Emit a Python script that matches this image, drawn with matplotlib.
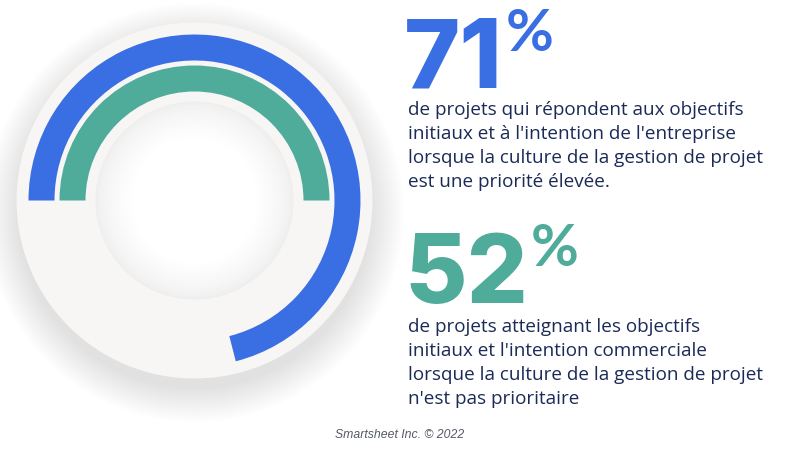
"""
Two progress rings with their headline figures (Smartsheet 2022).
"""

import matplotlib.pyplot as plt
import numpy as np
from matplotlib.patches import Circle, Wedge

# headline values and the share of the ring each arc covers
percents = ['71', '52']
arc_fractions = [0.71, 0.50]
colors = ['#3a6fe3', '#4fab9a']
captions = [
    ["de projets qui répondent aux objectifs",
     "initiaux et à l'intention de l'entreprise",
     "lorsque la culture de la gestion de projet",
     "est une priorité élevée."],
    ["de projets atteignant les objectifs",
     "initiaux et l'intention commerciale",
     "lorsque la culture de la gestion de projet",
     "n'est pas prioritaire"],
]
footer = 'Smartsheet Inc. © 2022'

W, H = 800, 451
fig = plt.figure(figsize=(W / 100, H / 100), dpi=100)
ax = fig.add_axes([0, 0, 1, 1])
ax.set_xlim(0, W)
ax.set_ylim(0, H)
ax.set_aspect('equal')
ax.axis('off')

cx, cy = 194.5, H - 200.5

# soft drop shadow under the gray disk
for r in np.linspace(210, 176, 30):
    ax.add_patch(Circle((cx, cy - 12), r, color='#000000', alpha=0.002, lw=0))
ax.add_patch(Circle((cx, cy), 178, color='#f7f6f5', lw=0))

# inner white well with an inner shadow
for r in np.linspace(99, 62, 30):
    t = (99 - r) / 37
    g = 0.935 + 0.065 * t ** 0.7
    ax.add_patch(Circle((cx, cy), r, color=(g, g, g), lw=0))
ax.add_patch(Circle((cx, cy), 62, color='white', lw=0))

# arcs, starting at 9 o'clock and running clockwise
radii = [166, 135]
for frac, color, r in zip(arc_fractions, colors, radii):
    ax.add_patch(Wedge((cx, cy), r, 180 - 360 * frac, 180, width=26,
                       color=color, lw=0))

# headline numbers and captions
num_y = [87, 303]
pct_y = [51, 266]
cap_y = [115, 332]
for i, (pct, color, lines) in enumerate(zip(percents, colors, captions)):
    t = ax.text(404, H - num_y[i], pct, color=color, fontsize=69,
                fontweight=800, family='Inter', va='baseline', ha='left')
    fig.canvas.draw()
    x1 = ax.transData.inverted().transform(t.get_window_extent().get_points())[1, 0]
    ax.text(x1 + 3, H - pct_y[i], '%', color=color, fontsize=42,
            fontweight='bold', family='Lato', va='baseline', ha='left')
    for j, line in enumerate(lines):
        ax.text(408, H - cap_y[i] - 23.9 * j, line, color='#1b2a57',
                fontsize=13.6, family='Open Sans', va='baseline', ha='left')

ax.text(400, H - 435, footer, color='#555a66', fontsize=8.8, style='italic',
        family='Liberation Sans', va='center', ha='center')

fig.savefig('out.png', dpi=100, facecolor='white')
